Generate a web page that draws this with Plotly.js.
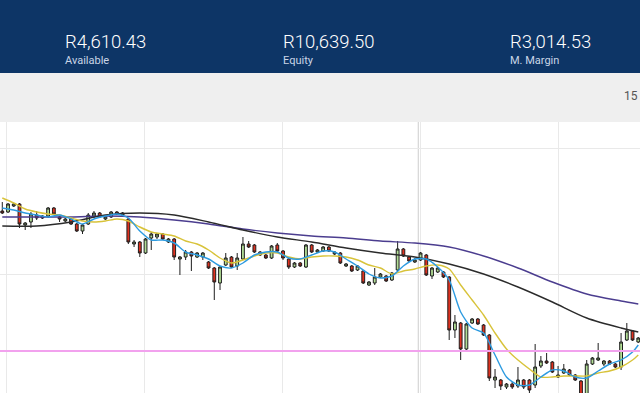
<!DOCTYPE html>
<html><head><meta charset="utf-8">
<script src="https://cdn.plot.ly/plotly-3.0.1.min.js"></script>
<style>html,body{margin:0;padding:0;overflow:hidden;background:#fff}#chart{width:640px;height:393px}</style>
</head><body><div id="chart"></div>
<script>
// ---- data (candle index = one bar) ----
const open  = [189,188,194,196,175,178,185,182,184,192,183,179,181,176,169,176,184,187,181,183,188,185,181,156,158,147,162,163,166,158,161,141,143,148,143,143,138,132,117,135,143,134,141,156,155,148,145,142,155,149,141,133,137,133,155,148,149,153,146,147,134,134,130,129,115,117,123,124,120,130,151,143,138,140,145,124,128,128,123,70,77,51,77,81,75,65,20,20,13,16,14,20,20,15,34,39,38,23,27,30,25,19,5,36,40,36,39,36,33,60,69,58];
const high  = [198,197,197,197,178,188,189,185,193,193,184,182,182,177,176,187,189,188,184,189,189,188,182,160,159,162,168,167,167,162,162,144,150,149,148,148,139,133,134,147,144,147,163,159,156,149,146,155,157,150,142,138,138,156,156,151,154,154,149,148,137,135,135,130,119,132,127,125,128,159,152,144,142,148,146,133,133,129,124,85,78,77,82,82,76,66,31,21,17,18,33,21,21,56,44,47,39,34,36,31,26,20,40,43,57,40,40,37,67,77,70,63];
const low   = [186,187,193,172,170,172,180,181,182,185,178,178,175,168,166,175,182,182,180,182,185,184,156,153,143,146,150,161,160,157,140,125,140,129,142,140,131,100,110,134,132,130,140,152,147,144,141,141,148,140,131,132,133,132,147,147,148,148,145,136,133,128,129,116,114,115,122,118,119,128,143,138,137,139,124,121,127,122,60,62,40,50,76,75,64,19,12,10,11,11,12,11,7,12,32,36,27,22,26,24,19,2,2,35,39,34,35,32,30,59,59,57];
const close = [187,196,196,176,177,186,182,184,192,186,181,181,176,169,175,185,187,183,183,188,186,187,158,158,147,161,166,166,161,161,143,143,148,144,147,147,132,118,133,142,133,142,156,153,148,145,142,154,149,142,133,137,134,155,148,150,153,149,148,137,136,129,134,117,118,123,126,119,127,151,144,139,140,147,125,132,132,123,70,78,51,76,81,76,65,22,23,14,16,13,20,13,10,33,39,37,28,25,31,25,20,5,36,42,42,39,36,33,58,69,60,62];

// moving averages (index, value)
const fastIdx = [0,2,4,6,8,10,12,14,16,18,20,22,24,26,28,30,32,34,36,38,40,42,44,46,48,50,52,54,56,58,60,62,64,66,68,70,72,74,76,78,80,82,84,86,88,90,92,94,96,98,100,102,104,106,108,110,111];
const fastMA  = [192,190,187,185,183,185,181,176,181,184,186,182,169,160,160,157,148,145,141,134,132,137,145,148,148,142,141,145,149,148,141,134,126,122,124,134,141,141,133,120,88,72,67,45,23,15,15,23,30,29,23,22,29,36,40,48,55];
const midMA   = [202,197,191,188,186,185,182,179,178,179,181,179,173,168,166,164,159,156,150,142,137,140,144,147,147,143,141,143,144,144,143,140,135,132,126,129,131,134,135,131,115,100,85,67,51,40,31,23,23,24,24,24,27,29,33,40,45];
const slowIdx = [0,6,12,18,24,30,36,42,48,54,60,66,72,78,84,90,96,102,108,111];
const slowMA  = [174,174,178,185,187,185,178,170,163,158,152,147,143,136,126,113,98,82,72,68];
const longMA  = [183,183,183,184,183,180,176,171,167,164,162,159,157,153,144,132,118,106,99,96];

const levelPrice = 49;
const separatorIdx = 72.6;

const headerValues = ['R4,610.43','R10,639.50','R3,014.53'];
const headerLabels = ['Available','Equity','M. Margin'];
const headerX = [63, 281, 508];
const stripText = '15';

// ---- layout helpers ----
const W = 640, H = 393, TOP = 122, plotH = H - TOP;
const py = p => 1 + (TOP - p) / plotH;

const idx = open.map((_, i) => i);

const traces = [
  {type:'candlestick', x: idx, open, high, low, close,
   increasing:{line:{color:'#1e1e1e', width:1}, fillcolor:'#b2de96'},
   decreasing:{line:{color:'#1e1e1e', width:1}, fillcolor:'#e0311f'},
   whiskerwidth:0, hoverinfo:'skip'},
  {type:'scatter', mode:'lines', x: slowIdx, y: longMA, line:{color:'#4b3d8f', width:1.4, shape:'spline', smoothing:0.8}, hoverinfo:'skip'},
  {type:'scatter', mode:'lines', x: slowIdx, y: slowMA, line:{color:'#2b2b2b', width:1.4, shape:'spline', smoothing:0.8}, hoverinfo:'skip'},
  {type:'scatter', mode:'lines', x: fastIdx, y: midMA, line:{color:'#d8c33a', width:1.4, shape:'spline', smoothing:0.7}, hoverinfo:'skip'},
  {type:'scatter', mode:'lines', x: fastIdx, y: fastMA, line:{color:'#2d9be0', width:1.4, shape:'spline', smoothing:0.7}, hoverinfo:'skip'}
];

const shapes = [
  {type:'rect', xref:'paper', yref:'paper', x0:0, x1:1, y0:py(73), y1:py(0), fillcolor:'#0d3566', line:{width:0}, layer:'above'},
  {type:'rect', xref:'paper', yref:'paper', x0:0, x1:1, y0:py(122), y1:py(73), fillcolor:'#efefef', line:{width:0}, layer:'above'},
  {type:'line', xref:'x', yref:'paper', x0:separatorIdx, x1:separatorIdx, y0:0, y1:1, line:{color:'#cdcdcd', width:1}, layer:'below'},
  {type:'line', xref:'paper', yref:'y', x0:0, x1:1, y0:levelPrice, y1:levelPrice, line:{color:'#f2a2ee', width:2}, layer:'above'}
];

const annotations = [];
headerValues.forEach((t, k) => {
  annotations.push({text:t, xref:'paper', yref:'paper', x:headerX[k]/W, y:py(42), xanchor:'left', yanchor:'middle', showarrow:false,
    font:{family:'Roboto', size:18.5, color:'#ffffff', weight:300}});
  annotations.push({text:headerLabels[k], xref:'paper', yref:'paper', x:headerX[k]/W, y:py(61), xanchor:'left', yanchor:'middle', showarrow:false,
    font:{family:'Roboto', size:11, color:'#c9d5e6'}});
});
annotations.push({text:stripText, xref:'paper', yref:'paper', x:1, y:py(96), xanchor:'right', yanchor:'middle', showarrow:false,
  font:{family:'Roboto', size:12, color:'#555555'}});

const layout = {
  width:W, height:H, margin:{l:0, r:0, t:TOP, b:0, pad:0},
  paper_bgcolor:'#ffffff', plot_bgcolor:'#ffffff', showlegend:false,
  xaxis:{range:[-0.4, 111.3], tick0:0.8, dtick:24.05, showgrid:true, gridcolor:'#e9e9e9', gridwidth:1,
         showticklabels:false, ticks:'', zeroline:false, showline:false, rangeslider:{visible:false}, fixedrange:true},
  yaxis:{range:[7, 278], tick0:0, dtick:126, showgrid:true, gridcolor:'#e9e9e9', gridwidth:1,
         showticklabels:false, ticks:'', zeroline:false, showline:false, fixedrange:true},
  shapes, annotations
};

Plotly.newPlot('chart', traces, layout, {staticPlot:true, displayModeBar:false});
</script></body></html>
